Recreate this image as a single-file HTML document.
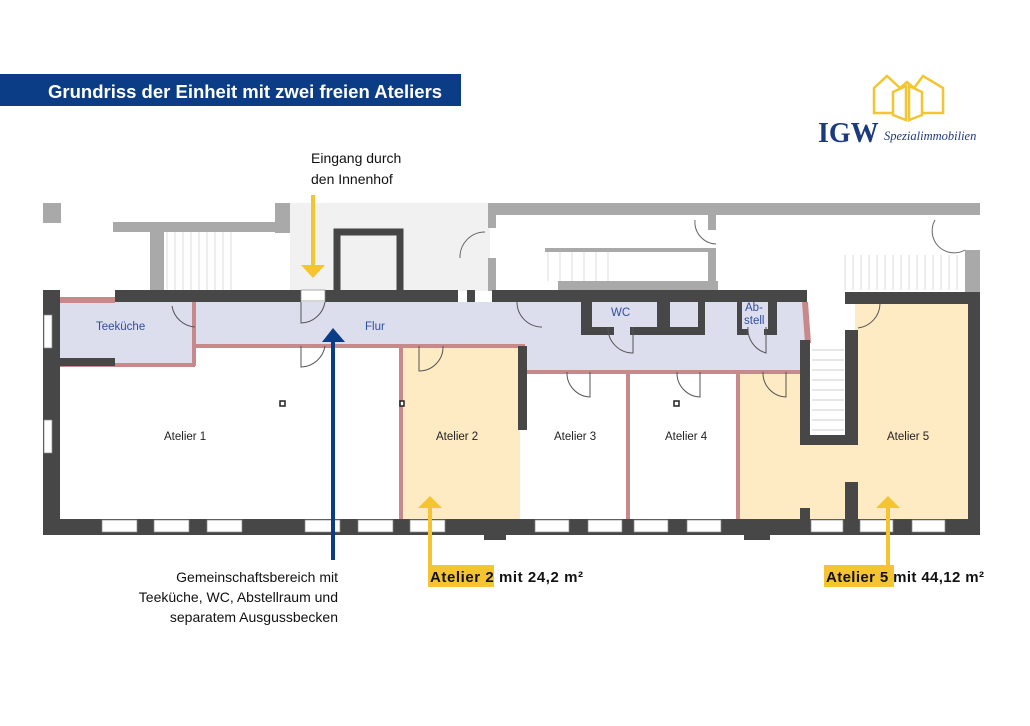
<!DOCTYPE html>
<html><head><meta charset="utf-8"><style>
html,body{margin:0;padding:0;background:#fff;}
body{width:1030px;height:726px;overflow:hidden;position:relative;font-family:"Liberation Sans",sans-serif;}
</style></head><body>
<svg width="1030" height="726" viewBox="0 0 1030 726" xmlns="http://www.w3.org/2000/svg" style="position:absolute;left:0;top:0">
<!-- title -->
<rect x="0" y="74" width="461" height="32" fill="#0b3d86"/>
<text x="48" y="98" font-family="Liberation Sans, sans-serif" font-weight="bold" font-size="18.5" fill="#fff">Grundriss der Einheit mit zwei freien Ateliers</text>
<!-- logo -->
<g fill="none" stroke="#f2c633" stroke-width="2.5" stroke-linejoin="miter">
<polyline points="892,113 874,113 874,88 887,76 900,88"/>
<polyline points="914,88 923,76 943,88 943,113 922,113"/>
<polyline points="900,88 907,82 914,88"/>
<polygon points="893,92 906,86 906,120 893,115"/>
<polygon points="922,92 909,86 909,120 922,115"/>
</g>
<text x="818" y="142" font-family="Liberation Serif, serif" font-weight="bold" font-size="28" fill="#1c3b7f">IGW</text>
<text x="884" y="140" font-family="Liberation Serif, serif" font-style="italic" font-size="12.5" fill="#1c3b7f">Spezialimmobilien</text>
<!-- surrounding grey building -->
<rect x="290" y="203" width="200" height="88" fill="#f1f1f1"/>
<g fill="#a9a9a9">
<rect x="43" y="203" width="18" height="20"/>
<rect x="113" y="222" width="170" height="10"/>
<rect x="150" y="222" width="14" height="70"/>
<rect x="275" y="203" width="15" height="30"/>
<rect x="488" y="203" width="8" height="25"/>
<rect x="488" y="258" width="8" height="33"/>
<rect x="490" y="203" width="490" height="12"/>
<rect x="708" y="215" width="8" height="15"/>
<rect x="545" y="248" width="170" height="4"/>
<rect x="708" y="248" width="8" height="42"/>
<rect x="558" y="281" width="160" height="9"/>
<rect x="965" y="250" width="15" height="42"/>
</g>
<g stroke="#ddd" stroke-width="1">
<path d="M167 232V290M175 232V290M183 232V290M191 232V290M199 232V290M207 232V290M215 232V290M223 232V290M231 232V290"/>
<path d="M845 255V290M853 255V290M861 255V290M869 255V290M877 255V290M885 255V290M893 255V290M901 255V290M909 255V290M917 255V290M925 255V290M933 255V290M941 255V290M949 255V290M957 255V290"/>
<path d="M548 252V281M560 252V281M572 252V281M584 252V281M596 252V281M608 252V281"/>
</g>
<path d="M337 290V232H400V290" fill="none" stroke="#454545" stroke-width="7"/>
<path d="M460 258A25 25 0 0 1 485 232" fill="none" stroke="#666" stroke-width="1"/>
<path d="M695 220A22 22 0 0 0 716 244" fill="none" stroke="#666"/>
<path d="M935 220A22 22 0 0 0 965 250" fill="none" stroke="#666"/>
<!-- rooms fill -->
<g fill="#dcdded">
<rect x="60" y="302" width="135" height="64"/>
<rect x="195" y="302" width="335" height="44"/>
<rect x="525" y="302" width="281" height="70"/>
</g>
<g fill="#feebc4">
<rect x="402" y="346" width="118" height="173"/>
<rect x="740" y="372" width="62" height="147"/>
<rect x="802" y="445" width="60" height="74"/>
<rect x="855" y="303" width="114" height="216"/>
</g>
<rect x="810" y="340" width="36" height="95" fill="#fff"/>
<g stroke="#ccc"><path d="M812 350H844M812 360H844M812 370H844M812 380H844M812 390H844M812 400H844M812 410H844M812 420H844M812 430H844"/></g>
<!-- partition walls pink -->
<g fill="#c8898a">
<rect x="195" y="344" width="330" height="4"/>
<rect x="192" y="302" width="4" height="64"/>
<rect x="60" y="363" width="135" height="4"/>
<rect x="399" y="346" width="4" height="173"/>
<rect x="525" y="370" width="276" height="4"/>
<rect x="626" y="372" width="4" height="147"/>
<rect x="736" y="372" width="4" height="147"/>
<rect x="60" y="297" width="55" height="6"/>
<polygon points="802,302 808,302 811,343 805,343"/>
</g>
<!-- dark walls -->
<g fill="#474747">
<rect x="43" y="290" width="17" height="245"/>
<rect x="115" y="290" width="186" height="12"/>
<rect x="325" y="290" width="133" height="12"/>
<rect x="467" y="290" width="8" height="12"/>
<rect x="492" y="290" width="52" height="12"/>
<rect x="543" y="290" width="264" height="12"/>
<rect x="845" y="292" width="135" height="12"/>
<rect x="968" y="292" width="12" height="243"/>
<rect x="43" y="519" width="937" height="16"/>
<rect x="60" y="358" width="55" height="8"/>
<rect x="518" y="346" width="9" height="84"/>
<rect x="800" y="340" width="10" height="105"/>
<rect x="845" y="330" width="13" height="115"/>
<rect x="800" y="435" width="58" height="10"/>
<rect x="845" y="482" width="13" height="37"/>
<rect x="800" y="508" width="10" height="11"/>
<rect x="484" y="532" width="22" height="8"/>
<rect x="744" y="532" width="26" height="8"/>
<rect x="581" y="302" width="84" height="33"/>
<rect x="665" y="302" width="40" height="33"/>
<rect x="737" y="302" width="40" height="33"/>
</g>
<g fill="#dcdded">
<rect x="592" y="302" width="65" height="25"/>
<rect x="670" y="302" width="28" height="25"/>
<rect x="742" y="302" width="26" height="27"/>
<rect x="614" y="327" width="16" height="10"/>
<rect x="748" y="327" width="16" height="10"/>
</g>
<!-- windows -->
<g fill="#fff" stroke="#888" stroke-width="0.7">
<rect x="102" y="520" width="35" height="12"/><rect x="154" y="520" width="35" height="12"/><rect x="207" y="520" width="35" height="12"/>
<rect x="305" y="520" width="35" height="12"/><rect x="358" y="520" width="35" height="12"/><rect x="410" y="520" width="35" height="12"/>
<rect x="535" y="520" width="34" height="12"/><rect x="588" y="520" width="34" height="12"/><rect x="634" y="520" width="34" height="12"/><rect x="687" y="520" width="34" height="12"/>
<rect x="811" y="520" width="32" height="12"/><rect x="860" y="520" width="33" height="12"/><rect x="912" y="520" width="33" height="12"/>
<rect x="44" y="315" width="8" height="33"/><rect x="44" y="420" width="8" height="33"/>
<rect x="301" y="290" width="24" height="11"/>
</g>
<!-- door arcs -->
<g fill="none" stroke="#555" stroke-width="1">
<path d="M172 306A25 25 0 0 0 195 327"/>
<path d="M301 302V323A25 25 0 0 0 325 302"/>
<path d="M301 346V367A25 25 0 0 0 325 346"/>
<path d="M419 346V371A24 24 0 0 0 443 346"/>
<path d="M517 302A25 25 0 0 0 542 327"/>
<path d="M608 327A25 25 0 0 0 633 353V327"/>
<path d="M567 372A24 24 0 0 0 590 397V372"/>
<path d="M677 372A24 24 0 0 0 700 397V372"/>
<path d="M763 372A24 24 0 0 0 786 397V372"/>
<path d="M748 327A25 25 0 0 0 766 353V327"/>
<path d="M880 304A25 25 0 0 1 858 328"/>
</g>
<rect x="280" y="401" width="5" height="5" fill="#fff" stroke="#222" stroke-width="1.5"/>
<rect x="400" y="401" width="4" height="5" fill="#fff" stroke="#222" stroke-width="1.5"/>
<rect x="674" y="401" width="5" height="5" fill="#fff" stroke="#222" stroke-width="1.5"/>
<!-- room labels -->
<g font-family="Liberation Sans, sans-serif" font-size="11.5">
<text x="96" y="330" fill="#2f4fa0">Teeküche</text>
<text x="365" y="330" fill="#2f4fa0">Flur</text>
<text x="611" y="316" fill="#2f4fa0">WC</text>
<text x="745" y="311" fill="#2f4fa0">Ab-</text>
<text x="744" y="324" fill="#2f4fa0">stell</text>
<text x="164" y="440" fill="#222">Atelier 1</text>
<text x="436" y="440" fill="#222">Atelier 2</text>
<text x="554" y="440" fill="#222">Atelier 3</text>
<text x="665" y="440" fill="#222">Atelier 4</text>
<text x="887" y="440" fill="#222">Atelier 5</text>
</g>
<!-- arrows -->
<g stroke-width="4" fill="none">
<line x1="313" y1="195" x2="313" y2="266" stroke="#f5c431"/>
<line x1="333" y1="340" x2="333" y2="560" stroke="#0b3d86"/>
<line x1="430" y1="505" x2="430" y2="568" stroke="#f5c431"/>
<line x1="888" y1="505" x2="888" y2="568" stroke="#f5c431"/>
</g>
<polygon points="301,265 325,265 313,278" fill="#f5c431"/>
<polygon points="322,342 345,342 333,328" fill="#0b3d86"/>
<polygon points="418,508 442,508 430,496" fill="#f5c431"/>
<polygon points="876,508 900,508 888,496" fill="#f5c431"/>
<rect x="428" y="565" width="66" height="22" fill="#f5c431"/>
<rect x="824" y="565" width="70" height="22" fill="#f5c431"/>
<g font-family="Liberation Sans, sans-serif" font-size="14" fill="#111">
<text x="311" y="163">Eingang durch</text>
<text x="311" y="184">den Innenhof</text>
<text x="338" y="582" text-anchor="end">Gemeinschaftsbereich mit</text>
<text x="338" y="602" text-anchor="end">Teeküche, WC, Abstellraum und</text>
<text x="338" y="622" text-anchor="end">separatem Ausgussbecken</text>
<text x="430" y="582" font-weight="bold" font-size="15" textLength="153">Atelier 2 mit 24,2 m²</text>
<text x="826" y="582" font-weight="bold" font-size="15" textLength="158">Atelier 5 mit 44,12 m²</text>
</g>
</svg>
</body></html>
